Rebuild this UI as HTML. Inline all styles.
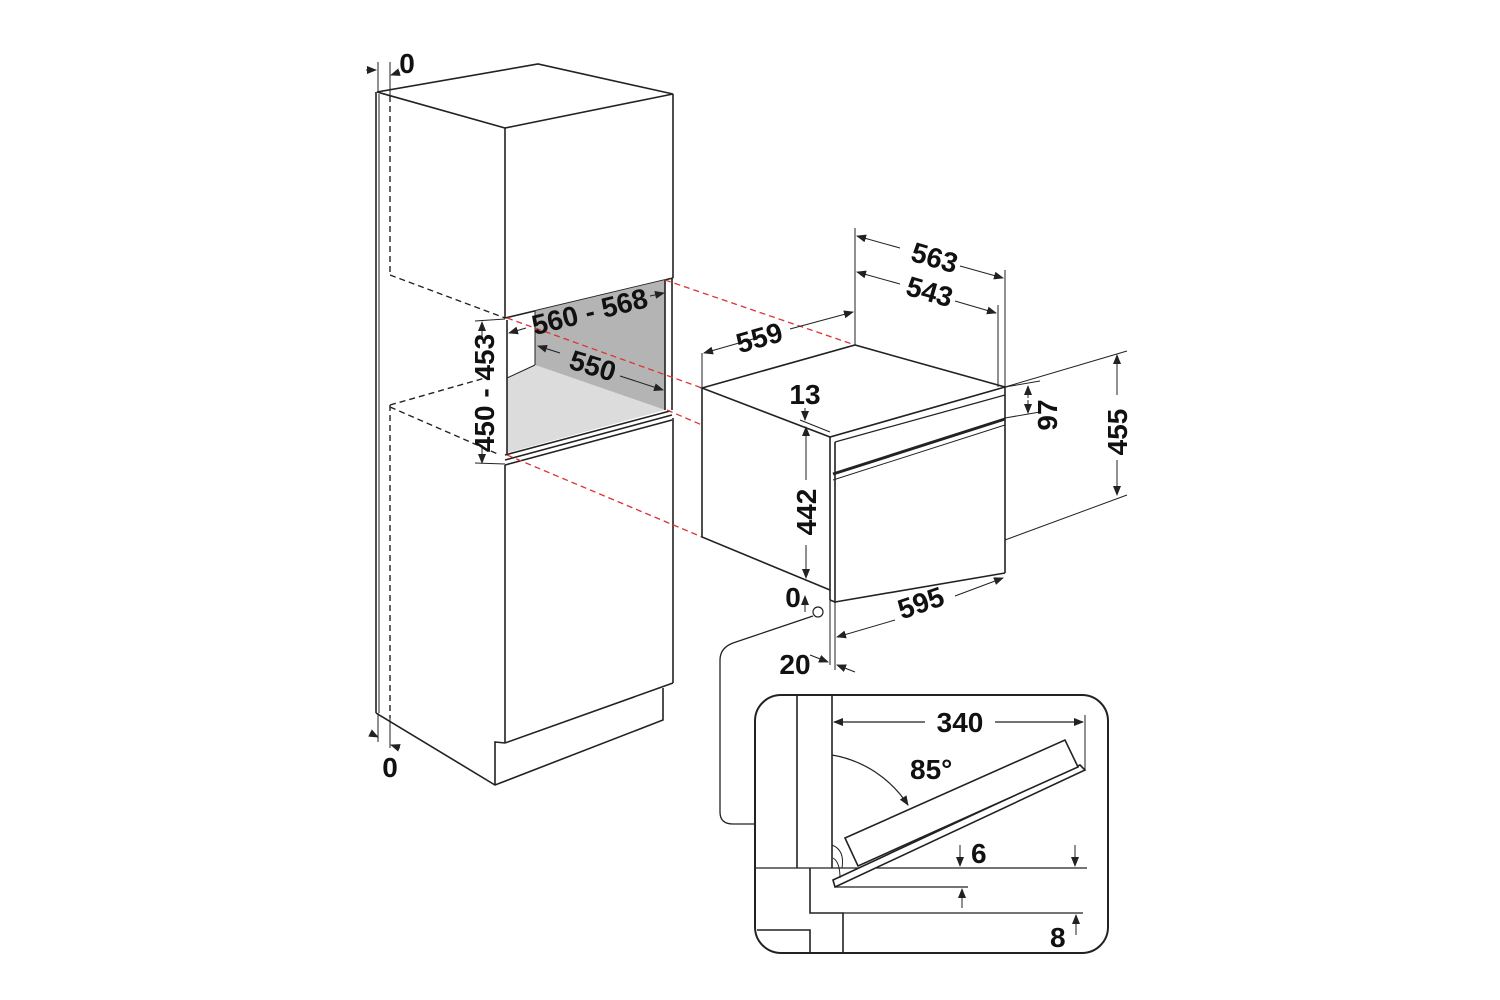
<!DOCTYPE html>
<html><head><style>
html,body{margin:0;padding:0;background:#fff;}
svg{display:block;}
text{font-family:"Liberation Sans",sans-serif;font-weight:bold;font-size:28px;fill:#111;}
</style></head><body>
<svg width="1500" height="1000" viewBox="0 0 1500 1000" xmlns="http://www.w3.org/2000/svg">
<defs>
<marker id="a" markerWidth="10" markerHeight="8" refX="9" refY="4" orient="auto" markerUnits="userSpaceOnUse"><path d="M0,0 L10,4 L0,8 z" fill="#222"/></marker>
</defs>
<g stroke="#222" stroke-width="1.6" fill="none">
<polygon points="377,92 538,64 673,94 505,128" fill="#fff"/>
<line x1="376" y1="92" x2="376" y2="713"/>
<line x1="379" y1="94" x2="379" y2="713" stroke-width="1"/>
<line x1="505" y1="128" x2="505" y2="318"/>
<line x1="673" y1="94" x2="673" y2="278"/>
<line x1="505" y1="318" x2="673" y2="278"/>
<polygon points="535,311 665,280 665,410 535,365" fill="#b4b4b4" stroke="none"/>
<polygon points="507,378 535,365 665,410 507,453" fill="#dcdcdc" stroke="none"/>
<line x1="507" y1="320" x2="507" y2="455"/>
<line x1="665" y1="280" x2="665" y2="410"/>
<line x1="672" y1="278" x2="672" y2="410"/>
<line x1="535" y1="311" x2="535" y2="365" stroke-width="1"/>
<line x1="507" y1="378" x2="535" y2="365" stroke-width="1"/>
<line x1="505" y1="455" x2="670" y2="411"/>
<line x1="505" y1="460" x2="672" y2="415"/>
<line x1="505" y1="465" x2="672" y2="420"/>
<line x1="505" y1="465" x2="505" y2="743"/>
<line x1="673" y1="418" x2="673" y2="683"/>
<line x1="505" y1="743" x2="673" y2="683"/>
<polyline points="376,713 495,785 663,720 663,688"/>
<polyline points="495,785 495,742 505,743"/>
<g stroke-dasharray="6,4" stroke-width="1.4">
<line x1="390" y1="96" x2="390" y2="275"/>
<line x1="390" y1="275" x2="505" y2="318"/>
<line x1="390" y1="405" x2="390" y2="718"/>
<line x1="390" y1="405" x2="485" y2="378"/>
<line x1="390" y1="407" x2="500" y2="455"/>
</g>
<g stroke="#d33" stroke-dasharray="6,4" stroke-width="1.3">
<line x1="665" y1="280" x2="855" y2="345"/>
<line x1="507" y1="318" x2="702" y2="388"/>
<line x1="667" y1="410" x2="702" y2="425"/>
<line x1="507" y1="455" x2="702" y2="537"/>
</g>
<line x1="366" y1="70" x2="376" y2="70" marker-end="url(#a)" stroke-width="1"/>
<line x1="400" y1="72" x2="391" y2="75" marker-end="url(#a)" stroke-width="1"/>
<line x1="378" y1="62" x2="378" y2="92" stroke-width="1"/>
<line x1="390" y1="62" x2="390" y2="95" stroke-width="1"/>
<line x1="378" y1="713" x2="378" y2="742" stroke-width="1"/>
<line x1="390" y1="718" x2="390" y2="748" stroke-width="1"/>
<line x1="370" y1="733" x2="378" y2="737" marker-end="url(#a)" stroke-width="1"/>
<line x1="400" y1="748" x2="391" y2="745" marker-end="url(#a)" stroke-width="1"/>
<line x1="526" y1="328" x2="509" y2="333" marker-end="url(#a)" stroke-width="1"/>
<line x1="650" y1="296" x2="664" y2="293" marker-end="url(#a)" stroke-width="1"/>
<line x1="560" y1="353" x2="538" y2="346" marker-end="url(#a)" stroke-width="1"/>
<line x1="620" y1="376" x2="663" y2="390" marker-end="url(#a)" stroke-width="1"/>
<line x1="482" y1="340" x2="482" y2="322" marker-end="url(#a)" stroke-width="1"/>
<line x1="482" y1="445" x2="482" y2="463" marker-end="url(#a)" stroke-width="1"/>
<line x1="475" y1="321" x2="505" y2="319" stroke-width="1"/>
<line x1="475" y1="463" x2="505" y2="464" stroke-width="1"/>
<polygon points="702,388 855,345 1005,387 830,437" fill="#fff"/>
<polyline points="702,388 702,537 830,590"/>
<line x1="830" y1="437" x2="830" y2="600"/>
<line x1="835" y1="442" x2="835" y2="603"/>
<line x1="1005" y1="387" x2="1005" y2="573"/>
<line x1="835" y1="602" x2="1005" y2="573"/>
<line x1="830" y1="600" x2="835" y2="602"/>
<line x1="835" y1="442" x2="1005" y2="395" stroke-width="1.2"/>
<line x1="833" y1="474" x2="1005" y2="419" stroke-width="3"/>
<line x1="833" y1="480" x2="1005" y2="425" stroke-width="1"/>
<line x1="702" y1="353" x2="702" y2="388" stroke-width="1"/>
<line x1="855" y1="228" x2="855" y2="345" stroke-width="1"/>
<line x1="760" y1="337" x2="704" y2="353" marker-end="url(#a)" stroke-width="1"/>
<line x1="790" y1="329" x2="853" y2="312" marker-end="url(#a)" stroke-width="1"/>
<line x1="1005" y1="270" x2="1005" y2="387" stroke-width="1"/>
<line x1="998" y1="305" x2="998" y2="387" stroke-width="1"/>
<line x1="900" y1="248" x2="857" y2="236" marker-end="url(#a)" stroke-width="1"/>
<line x1="960" y1="266" x2="1003" y2="278" marker-end="url(#a)" stroke-width="1"/>
<line x1="900" y1="284" x2="857" y2="272" marker-end="url(#a)" stroke-width="1"/>
<line x1="955" y1="301" x2="996" y2="313" marker-end="url(#a)" stroke-width="1"/>
<line x1="1005" y1="387" x2="1040" y2="381" stroke-width="1"/>
<line x1="1005" y1="418" x2="1040" y2="412" stroke-width="1"/>
<line x1="1028" y1="398" x2="1028" y2="386" marker-end="url(#a)" stroke-width="1"/>
<line x1="1028" y1="400" x2="1028" y2="413" marker-end="url(#a)" stroke-width="1"/>
<line x1="1005" y1="387" x2="1127" y2="351" stroke-width="1"/>
<line x1="1005" y1="540" x2="1127" y2="495" stroke-width="1"/>
<line x1="1117" y1="395" x2="1117" y2="355" marker-end="url(#a)" stroke-width="1"/>
<line x1="1117" y1="460" x2="1117" y2="495" marker-end="url(#a)" stroke-width="1"/>
<line x1="805" y1="408" x2="805" y2="420" marker-end="url(#a)" stroke-width="1"/>
<line x1="800" y1="420" x2="830" y2="432" stroke-width="1"/>
<line x1="806" y1="480" x2="806" y2="427" marker-end="url(#a)" stroke-width="1"/>
<line x1="806" y1="545" x2="806" y2="578" marker-end="url(#a)" stroke-width="1"/>
<line x1="805" y1="612" x2="805" y2="596" marker-end="url(#a)" stroke-width="1"/>
<circle cx="818" cy="612" r="5" fill="#fff" stroke-width="1.2"/>
<line x1="830" y1="600" x2="830" y2="665" stroke-width="1"/>
<line x1="835" y1="603" x2="835" y2="670" stroke-width="1"/>
<line x1="810" y1="655" x2="828" y2="662" marker-end="url(#a)" stroke-width="1"/>
<line x1="855" y1="672" x2="837" y2="665" marker-end="url(#a)" stroke-width="1"/>
<line x1="895" y1="620" x2="837" y2="637" marker-end="url(#a)" stroke-width="1"/>
<line x1="955" y1="596" x2="1003" y2="578" marker-end="url(#a)" stroke-width="1"/>
<path d="M813,616 L733,643 Q720,648 720,660 L720,812 Q720,824 733,824 L755,824" stroke-width="1.3"/>
<rect x="755" y="695" width="353" height="258" rx="26" fill="#fff" stroke-width="2"/>
<line x1="797" y1="695" x2="797" y2="868"/>
<line x1="832" y1="695" x2="832" y2="868"/>
<line x1="755" y1="868" x2="1087" y2="868" stroke-width="1.2"/>
<polyline points="810,868 810,913 843,913 843,953"/>
<line x1="843" y1="913" x2="1083" y2="913" stroke-width="1.2"/>
<polyline points="757,930 810,930 810,953"/>
<line x1="835" y1="887" x2="968" y2="887" stroke-width="1.2"/>
<line x1="1085" y1="715" x2="1085" y2="770" stroke-width="1"/>
<line x1="925" y1="722" x2="834" y2="722" marker-end="url(#a)" stroke-width="1.2"/>
<line x1="995" y1="722" x2="1083" y2="722" marker-end="url(#a)" stroke-width="1.2"/>
<polygon points="833,880 1080,765 1085,770 835,887" fill="#fff"/>
<polygon points="845,838 1065,740 1078,767 858,866" fill="#fff"/>
<path d="M832,755 A113,113 0 0 1 908,805" stroke-width="1.2" marker-end="url(#a)"/>
<path d="M832,845 Q845,850 842,868 M833,858 Q840,862 840,878" stroke-width="1"/>
<line x1="960" y1="845" x2="960" y2="866" marker-end="url(#a)" stroke-width="1"/>
<line x1="1075" y1="845" x2="1075" y2="866" marker-end="url(#a)" stroke-width="1"/>
<line x1="962" y1="908" x2="962" y2="889" marker-end="url(#a)" stroke-width="1"/>
<line x1="1076" y1="935" x2="1076" y2="915" marker-end="url(#a)" stroke-width="1"/>
</g>
<text x="407" y="73" text-anchor="middle">0</text>
<text x="390" y="777" text-anchor="middle">0</text>
<text transform="translate(592,321) rotate(-14)" text-anchor="middle">560 - 568</text>
<text transform="translate(590,375) rotate(17)" text-anchor="middle">550</text>
<text transform="translate(494,393) rotate(-90)" text-anchor="middle">450 - 453</text>
<text transform="translate(762,347) rotate(-16)" text-anchor="middle">559</text>
<text transform="translate(932,267) rotate(16)" text-anchor="middle">563</text>
<text transform="translate(927,301) rotate(16)" text-anchor="middle">543</text>
<text transform="translate(1057,415) rotate(-90)" text-anchor="middle">97</text>
<text transform="translate(1127,432) rotate(-90)" text-anchor="middle">455</text>
<text x="805" y="404" text-anchor="middle">13</text>
<text transform="translate(816,512) rotate(-90)" text-anchor="middle">442</text>
<text x="793" y="607" text-anchor="middle">0</text>
<text transform="translate(924,612) rotate(-19)" text-anchor="middle">595</text>
<text x="795" y="674" text-anchor="middle">20</text>
<text x="960" y="732" text-anchor="middle">340</text>
<text x="910" y="779">85°</text>
<text x="971" y="863">6</text>
<text x="1050" y="947">8</text>
</svg>
</body></html>
